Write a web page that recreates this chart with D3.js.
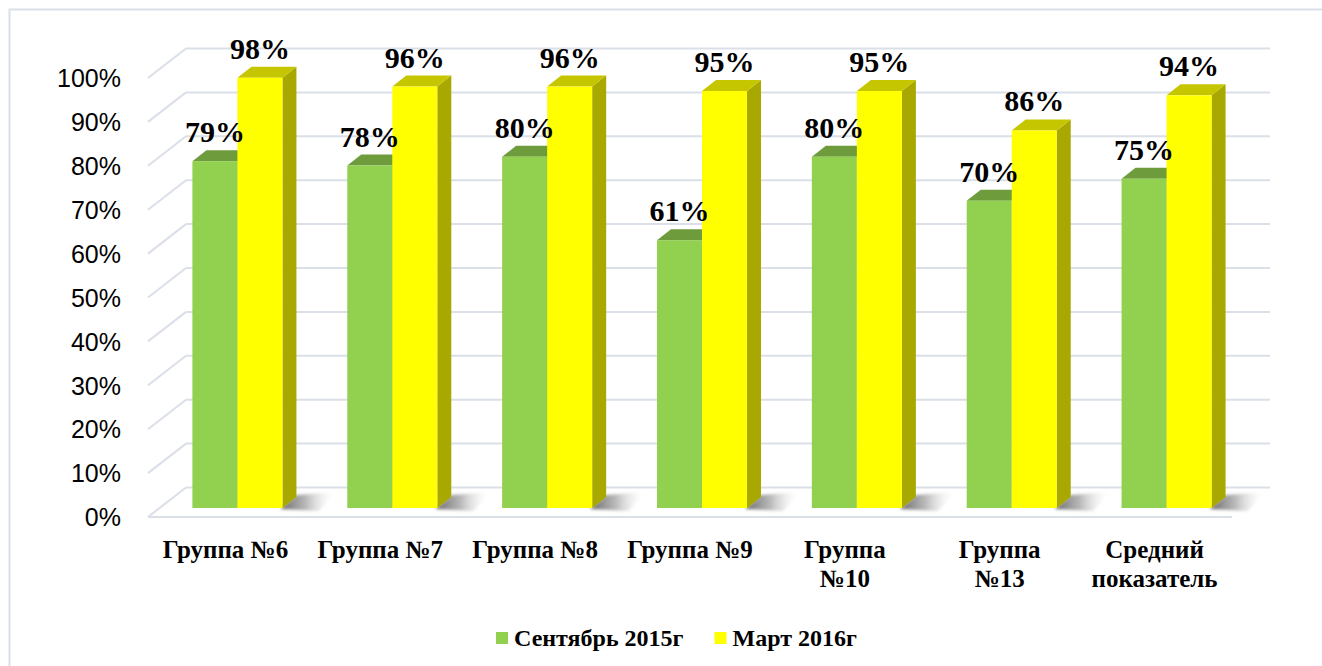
<!DOCTYPE html>
<html>
<head>
<meta charset="utf-8">
<script src="https://cdn.jsdelivr.net/npm/d3@7"></script>
<style>
  body { margin: 0; background: #fff; }
  svg { display: block; }
  .serif { font-family: "Liberation Serif", "Tinos", "Times New Roman", "DejaVu Serif", serif; font-weight: bold; }
  .sans { font-family: "Liberation Sans", Arial, sans-serif; }
</style>
</head>
<body>
<svg></svg>
<script>
var categories = ["Группа №6", "Группа №7", "Группа №8", "Группа №9", "Группа №10", "Группа №13", "Средний показатель"];
var seriesNames = ["Сентябрь 2015г", "Март 2016г"];
var sepValues = [79, 78, 80, 61, 80, 70, 75];
var marValues = [98, 96, 96, 95, 95, 86, 94];
var yTicks = [0, 10, 20, 30, 40, 50, 60, 70, 80, 90, 100];

var width = 1322;
var height = 666;

var frontColors = ["#92d050", "#ffff00"];
var topColors = ["#6e9c3c", "#c6c600"];
var sideColors = ["#5f8a30", "#a8a800"];
var gridColor = "#dadfe8";

// depth of the 3d box, and where the bars sit inside it
var depthX = 38, depthY = -29.5;
var barOffX = 12, barOffY = -9;
var barDepthX = 14, barDepthY = -11;

var svg = d3.select('svg')
    .attr('width', width)
    .attr('height', height);

svg.append('rect')
  .attr('x', 9.5).attr('y', 9.5)
  .attr('width', 1400).attr('height', 700)
  .attr('fill', 'none')
  .attr('stroke', gridColor)
  .attr('stroke-width', 2);

var x = d3.scaleBand()
          .domain(categories)
          .range([148, 1232])
          .padding(0);

var xSub = d3.scaleBand()
             .domain(seriesNames)
             .range([0, x.bandwidth()])
             .paddingInner(0)
             .paddingOuter(0.72);

var y = d3.scaleLinear()
          .domain([0, 100])
          .range([517, 78]);

var defs = svg.append('defs');
var grad = defs.append('linearGradient')
  .attr('id', 'shadow')
  .attr('x1', '0').attr('x2', '1').attr('y1', '0').attr('y2', '0');
grad.append('stop').attr('offset', '0').attr('stop-color', '#666').attr('stop-opacity', 1);
grad.append('stop').attr('offset', '0.45').attr('stop-color', '#9a9a9a').attr('stop-opacity', 0.7);
grad.append('stop').attr('offset', '1').attr('stop-color', '#ffffff').attr('stop-opacity', 0);
defs.append('filter')
  .attr('id', 'blur')
  .attr('x', '-20%').attr('y', '-50%').attr('width', '140%').attr('height', '200%')
  .append('feGaussianBlur').attr('stdDeviation', 1.8);

// walls and floor
var grid = svg.append('g').attr('class', 'grid');
grid.selectAll('.diag')
  .data(yTicks)
  .enter().append('line')
    .attr('x1', 148).attr('y1', d => y(d))
    .attr('x2', 148 + depthX).attr('y2', d => y(d) + depthY)
    .attr('stroke', gridColor).attr('stroke-width', 2);
grid.selectAll('.back')
  .data(yTicks)
  .enter().append('line')
    .attr('x1', 148 + depthX).attr('y1', d => y(d) + depthY)
    .attr('x2', 1232 + depthX).attr('y2', d => y(d) + depthY)
    .attr('stroke', gridColor).attr('stroke-width', 2);
grid.append('line')
  .attr('x1', 148).attr('y1', y(0))
  .attr('x2', 1232).attr('y2', y(0))
  .attr('stroke', gridColor).attr('stroke-width', 2);

// y axis labels
var yAxis = d3.axisLeft(y)
  .tickValues(yTicks)
  .tickFormat(d => d + '%')
  .tickSize(0)
  .tickPadding(0);
var yAxisG = svg.append('g')
  .attr('transform', 'translate(121,0)')
  .call(yAxis);
yAxisG.select('.domain').remove();
yAxisG.attr('font-family', null).attr('font-size', null);
yAxisG.selectAll('text')
  .attr('class', 'sans')
  .style('font-size', '25px')
  .attr('fill', '#000')
  .attr('dy', '0.35em');

var rows = categories.map(function(c, i) {
  return { cat: c, values: [sepValues[i], marValues[i]] };
});

var bars = svg.append('g').attr('class', 'bars');
var groups = bars.selectAll('.group')
  .data(rows)
  .enter().append('g')
    .attr('class', 'group');

// shadow on the floor to the right of each pair
groups.append('polygon')
  .attr('fill', 'url(#shadow)')
  .attr('filter', 'url(#blur)')
  .attr('points', function(d) {
    var xr = x(d.cat) + xSub(seriesNames[1]) + xSub.bandwidth() + barOffX;
    var yb = y(0) + barOffY;
    return [
      [xr - 2, yb + 1],
      [xr + barDepthX, yb + barDepthY - 2],
      [xr + barDepthX + 40, yb + barDepthY - 5],
      [xr + 36, yb + 3]
    ].map(p => p.join(',')).join(' ');
  });

function barGeom(d, j) {
  var x0 = x(d.cat) + xSub(seriesNames[j]) + barOffX;
  var x1 = x0 + xSub.bandwidth();
  var yt = y(d.values[j]) + barOffY;
  var yb = y(0) + barOffY;
  return { x0: x0, x1: x1, yt: yt, yb: yb };
}

[0, 1].forEach(function(j) {
  // side
  groups.append('polygon')
    .attr('fill', sideColors[j])
    .attr('points', function(d) {
      var g = barGeom(d, j);
      return [[g.x1, g.yt], [g.x1 + barDepthX, g.yt + barDepthY],
              [g.x1 + barDepthX, g.yb + barDepthY], [g.x1, g.yb]]
             .map(p => p.join(',')).join(' ');
    });
  // top
  groups.append('polygon')
    .attr('fill', topColors[j])
    .attr('points', function(d) {
      var g = barGeom(d, j);
      return [[g.x0, g.yt], [g.x0 + barDepthX, g.yt + barDepthY],
              [g.x1 + barDepthX, g.yt + barDepthY], [g.x1, g.yt]]
             .map(p => p.join(',')).join(' ');
    });
  // front
  groups.append('rect')
    .attr('fill', frontColors[j])
    .attr('x', d => barGeom(d, j).x0)
    .attr('y', d => barGeom(d, j).yt)
    .attr('width', xSub.bandwidth())
    .attr('height', d => barGeom(d, j).yb - barGeom(d, j).yt);
});

// data labels on top
var labels = svg.append('g').attr('class', 'labels');
[0, 1].forEach(function(j) {
  labels.selectAll('.lab' + j)
    .data(rows)
    .enter().append('text')
      .attr('class', 'serif')
      .attr('x', d => barGeom(d, j).x0 + xSub.bandwidth() / 2)
      .attr('y', d => barGeom(d, j).yt - 19)
      .attr('text-anchor', 'middle')
      .style('font-size', '30px')
      .attr('fill', '#000')
      .text(d => d.values[j] + '%');
});

// category labels, wrapped when too wide
var catG = svg.append('g').attr('class', 'cats');
categories.forEach(function(c) {
  var t = catG.append('text')
    .attr('class', 'serif')
    .attr('x', x(c) + x.bandwidth() / 2)
    .attr('y', 558)
    .attr('text-anchor', 'middle')
    .style('font-size', '25px')
    .attr('fill', '#000')
    .text(c);
  if (t.node().getComputedTextLength() > 138) {
    var words = c.split(' ');
    t.text(null);
    words.forEach(function(w, k) {
      t.append('tspan')
        .attr('x', x(c) + x.bandwidth() / 2)
        .attr('dy', k === 0 ? 0 : 29)
        .text(w);
    });
  }
});

// legend
var legend = svg.append('g').attr('class', 'legend');
var lx = 496;
seriesNames.forEach(function(s, j) {
  legend.append('rect')
    .attr('x', lx).attr('y', 632)
    .attr('width', 12).attr('height', 12)
    .attr('fill', frontColors[j]);
  var t = legend.append('text')
    .attr('class', 'serif')
    .attr('x', lx + 18)
    .attr('y', 646)
    .style('font-size', '24px')
    .attr('fill', '#000')
    .text(s);
  lx = lx + 18 + t.node().getComputedTextLength() + 31;
});
</script>
</body>
</html>
